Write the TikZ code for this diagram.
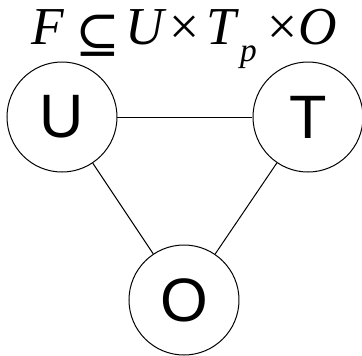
\documentclass[tikz,border=0pt]{standalone}
\usepackage{fontspec}
\setmainfont{Liberation Serif}
\newfontfamily\entityfont{Liberation Sans}
\newfontfamily\relfont{DejaVu Serif}
\usetikzlibrary{positioning}
\tikzset{
  entity/.style = {
    circle, draw=black, line width=0.75pt,
    minimum size=82.5pt, inner sep=0pt,
    font=\fontsize{46}{46}\selectfont\entityfont
  },
  link/.style = {line width=0.75pt},
  formula/.style = {
    inner sep=0pt, anchor=base west,
    font=\fontsize{40}{40}\selectfont\itshape
  }
}
\begin{document}
\begin{tikzpicture}[x=0.75pt,y=-0.75pt]

  \useasboundingbox (0,0) rectangle (362,355);

  \node[formula] (title) at (31,44)
    {F\kern9pt\raisebox{-0.15em}{\relfont\upshape ⊆}\kern4pt U\kern4pt{\upshape ×}\kern5pt T\kern3pt\raisebox{-0.33em}{\fontsize{25}{25}\selectfont p}\kern8pt{\upshape ×}\kern1pt O};

  \node[entity] (U) at (62,117) {U};
  \node[entity] (T) [right=101.25pt of U] {T};
  \node[entity] (O) at (184,300) {O};

  % Kanten zwischen den drei Knoten
  \draw[link] (U) -- (T);
  \draw[link] (U) -- (O);
  \draw[link] (T) -- (O);

\end{tikzpicture}
\end{document}
